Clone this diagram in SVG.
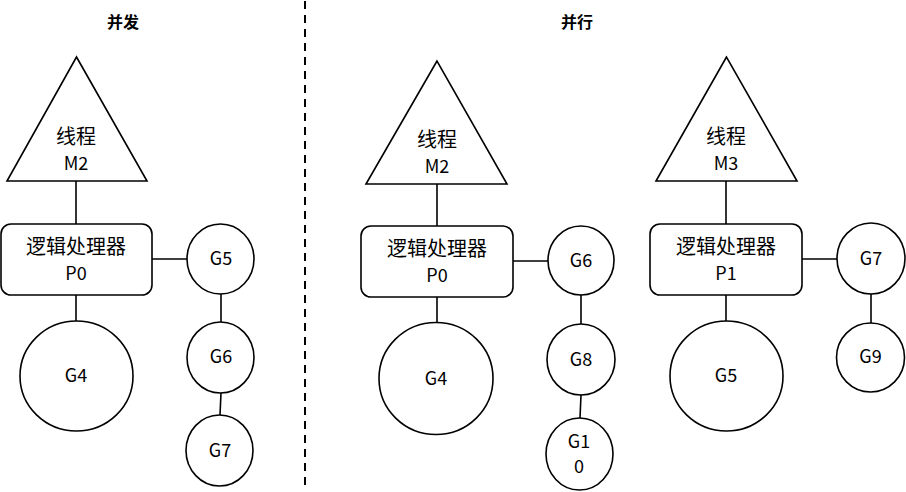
<svg xmlns="http://www.w3.org/2000/svg" width="906" height="492" viewBox="0 0 906 492">
<style>
.s{fill:#fff;stroke:#000;stroke-width:1.6}
.l{stroke:#000;stroke-width:1.6;fill:none}
.d{stroke:#000;stroke-width:2;stroke-dasharray:8 6;fill:none}
.cn{font-family:"Noto Sans CJK SC",sans-serif;font-size:20px;fill:#000;text-anchor:middle}
.la{font-family:"Noto Sans CJK SC",sans-serif;font-size:18px;fill:#000;text-anchor:middle}
.t{font-family:"Noto Sans CJK SC",sans-serif;font-size:16px;font-weight:bold;fill:#000;text-anchor:middle}
</style>
<rect width="906" height="492" fill="#fff"/>
<text class="t" x="123" y="28">并发</text>
<text class="t" x="577" y="28">并行</text>
<g id="connectors">
<line class="d" x1="305" y1="1" x2="305" y2="486"/>
<line class="l" x1="76" y1="181" x2="76" y2="224"/>
<line class="l" x1="76" y1="295" x2="76" y2="321"/>
<line class="l" x1="152" y1="259" x2="188" y2="259"/>
<line class="l" x1="221" y1="294" x2="221" y2="322"/>
<line class="l" x1="221" y1="393" x2="220" y2="415"/>
<line class="l" x1="437" y1="184" x2="437" y2="226"/>
<line class="l" x1="437" y1="297" x2="437" y2="323"/>
<line class="l" x1="513" y1="261" x2="548" y2="261"/>
<line class="l" x1="581" y1="295" x2="581" y2="324"/>
<line class="l" x1="581" y1="395" x2="580" y2="418"/>
<line class="l" x1="726" y1="181" x2="726" y2="224"/>
<line class="l" x1="726" y1="295" x2="726" y2="321"/>
<line class="l" x1="802" y1="259" x2="837" y2="259"/>
<line class="l" x1="871" y1="294" x2="871" y2="323"/>
</g>
<g id="m2a"><polygon class="s" points="76.5,57 7,181 147,181"/><text class="cn" x="76" y="143.5">线程</text><text class="la" x="76" y="170">M2</text></g>
<g id="p0a"><rect class="s" x="1" y="224" width="151" height="71" rx="10"/><text class="cn" x="76" y="254">逻辑处理器</text><text class="la" x="76" y="279.5">P0</text></g>
<g id="g4a"><ellipse class="s" cx="76.5" cy="376" rx="56.5" ry="55"/><text class="la" x="76" y="382">G4</text></g>
<g id="g5a"><ellipse class="s" cx="220.5" cy="259" rx="33.5" ry="35"/><text class="la" x="221" y="265">G5</text></g>
<g id="g6a"><ellipse class="s" cx="220.5" cy="357.5" rx="33.5" ry="35.5"/><text class="la" x="221" y="363">G6</text></g>
<g id="g7a"><ellipse class="s" cx="219.5" cy="450.5" rx="33.5" ry="35.5"/><text class="la" x="220" y="456.5">G7</text></g>
<g id="m2b"><polygon class="s" points="437,61 366,184 507,184"/><text class="cn" x="437" y="146.5">线程</text><text class="la" x="437" y="173">M2</text></g>
<g id="p0b"><rect class="s" x="361" y="226" width="152" height="71" rx="10"/><text class="cn" x="437" y="256">逻辑处理器</text><text class="la" x="437" y="281.5">P0</text></g>
<g id="g4b"><ellipse class="s" cx="436" cy="378.5" rx="57" ry="56"/><text class="la" x="436" y="385">G4</text></g>
<g id="g6b"><ellipse class="s" cx="581" cy="260.5" rx="33" ry="34.5"/><text class="la" x="581" y="266.5">G6</text></g>
<g id="g8b"><ellipse class="s" cx="581" cy="359.5" rx="34" ry="35.5"/><text class="la" x="581" y="366">G8</text></g>
<g id="g10b"><ellipse class="s" cx="579.5" cy="454" rx="33.5" ry="36"/><text class="la" x="579" y="448">G1</text><text class="la" x="579" y="472.5">0</text></g>
<g id="m3c"><polygon class="s" points="726.5,57 656,181 797,181"/><text class="cn" x="726" y="143.5">线程</text><text class="la" x="726" y="170">M3</text></g>
<g id="p1c"><rect class="s" x="650" y="224" width="152" height="71" rx="10"/><text class="cn" x="726" y="254">逻辑处理器</text><text class="la" x="726" y="279.5">P1</text></g>
<g id="g5c"><ellipse class="s" cx="726.5" cy="376" rx="56.5" ry="55"/><text class="la" x="726" y="381.5">G5</text></g>
<g id="g7c"><ellipse class="s" cx="871" cy="258.5" rx="34" ry="35.5"/><text class="la" x="871" y="265">G7</text></g>
<g id="g9c"><ellipse class="s" cx="870.5" cy="357.5" rx="34" ry="34.5"/><text class="la" x="870.5" y="363">G9</text></g>
</svg>
